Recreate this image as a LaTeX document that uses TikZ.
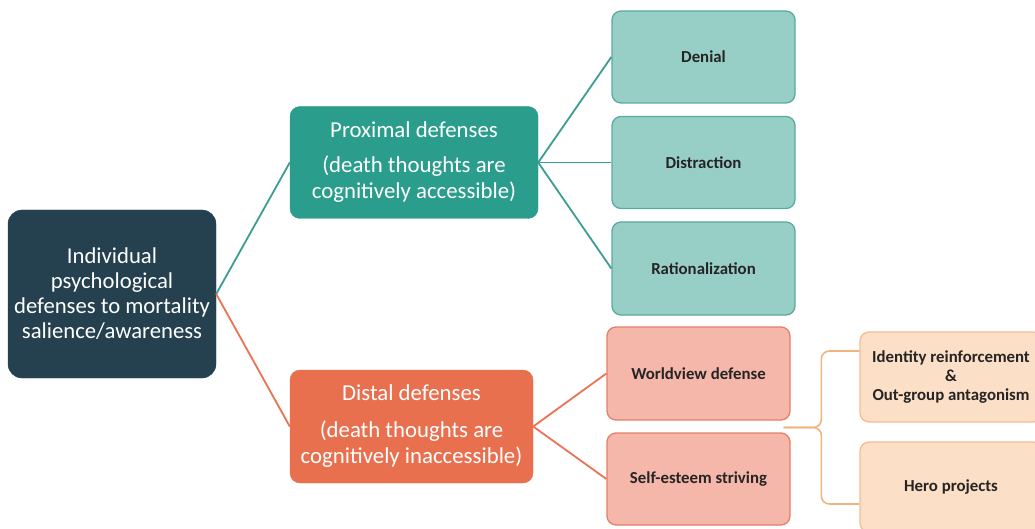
\documentclass[tikz,border=0pt]{standalone}
\usepackage{fontspec}
\setmainfont{Carlito}
\usetikzlibrary{calc}
\definecolor{maindark}{HTML}{25414F}
\definecolor{proxfill}{HTML}{2A9D8C}
\definecolor{tealleaf}{HTML}{97CFC6}
\definecolor{tealborder}{HTML}{5AAB9F}
\definecolor{tealline}{HTML}{3C9E92}
\definecolor{distfill}{HTML}{E8704F}
\definecolor{salmonleaf}{HTML}{F4B7A9}
\definecolor{salmonborder}{HTML}{E2806B}
\definecolor{orangeline}{HTML}{E87455}
\definecolor{peachfill}{HTML}{FBDFC6}
\definecolor{peachborder}{HTML}{F1BE93}
\definecolor{bracketcol}{HTML}{F0B47F}
\definecolor{leaftext}{HTML}{262424}
\tikzset{
  rootbox/.style={fill=maindark, draw=maindark, rounded corners=14pt, minimum width=208pt, minimum height=168pt, inner sep=0pt, align=center, text=white, font=\fontsize{22.7}{25}\selectfont},
  midbox/.style={rounded corners=10pt, minimum height=112pt, inner sep=0pt, align=center, text=white, font=\fontsize{22.8}{26}\selectfont},
  leafbox/.style={rounded corners=9pt, minimum width=183pt, minimum height=92pt, inner sep=0pt, align=center, text=leaftext, line width=1.3pt, font=\fontsize{16.8}{19}\selectfont\bfseries},
  tealbox/.style={leafbox, fill=tealleaf, draw=tealborder},
  salmonbox/.style={leafbox, fill=salmonleaf, draw=salmonborder},
  peachbox/.style={leafbox, fill=peachfill, draw=peachborder, minimum width=182pt, minimum height=90pt},
  tealconn/.style={draw=tealline, line width=1.8pt},
  orangeconn/.style={draw=orangeline, line width=1.8pt},
  bracketconn/.style={draw=bracketcol, line width=1.6pt, rounded corners=8pt},
}
\begin{document}
\begin{tikzpicture}[x=1pt,y=-1pt]
\clip (0,0) rectangle (1035,529);
\fill[white] (0,0) rectangle (1035,529);
\node[rootbox] (root) at (112,294) {Individual\\psychological\\defenses to mortality\\salience/awareness};
\node[midbox, fill=proxfill, draw=proxfill, minimum width=248pt] (prox) at (414,162.5) {Proximal defenses\\[9pt](death thoughts are\\cognitively accessible)};
\node[midbox, fill=distfill, draw=distfill, minimum width=243pt, minimum height=113pt] (dist) at (411.5,426.5) {Distal defenses\\[11pt](death thoughts are\\cognitively inaccessible)};
\node[tealbox] (denial) at (703.5,57) {Denial};
\node[tealbox] (distr) at (703.5,162.5) {Distraction};
\node[tealbox, minimum height=93pt] (ration) at (703.5,268.5) {Rationalization};
\node[salmonbox, minimum height=93pt] (world) at (698.5,373.5) {Worldview defense};
\node[salmonbox] (self) at (698.5,479) {Self-esteem striving};
\node[peachbox] (ident) at (951,377) {Identity reinforcement\\\&\\Out-group antagonism};
\node[peachbox] (hero) at (951,487) {Hero projects};
\draw[tealconn] (root.east) -- (prox.west);
\draw[orangeconn] (root.east) -- (dist.west);
\draw[tealconn] (prox.east) -- (denial.west);
\draw[tealconn] (prox.east) -- (distr.west);
\draw[tealconn] (prox.east) -- (ration.west);
\draw[orangeconn] (dist.east) -- (world.west);
\draw[orangeconn] (dist.east) -- (self.west);
\coordinate (br) at ($(world.south east)!0.5!(self.north east)+(-7,1)$);
\coordinate (bx) at ($(ident.west)+(-38,0)$);
\draw[bracketconn] (br) -| ($(bx)+(0,-26)$) -- ($(ident.west)+(0,-26)$);
\draw[bracketconn] (br) -| ($(bx |- hero.west)+(0,17)$) -- ($(hero.west)+(0,17)$);
\end{tikzpicture}
\end{document}
